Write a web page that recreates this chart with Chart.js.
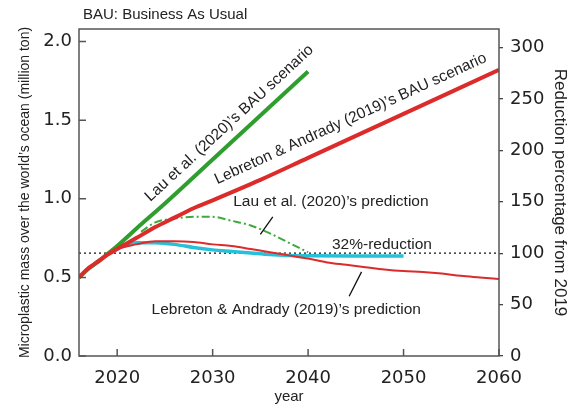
<!DOCTYPE html>
<html>
<head>
<script src="https://cdn.jsdelivr.net/npm/chart.js"></script>
<style>
    body { margin: 0; background: #fff; }
</style>
</head>
<body>
<canvas id="chart" width="576" height="410"></canvas>
<script>
// data (mass in million ton)
const yearsLebretonBAU = [2016, 2017, 2018, 2019, 2020, 2022, 2024, 2026, 2028, 2030, 2035, 2040, 2045, 2050, 2055, 2060];
const massLebretonBAU  = [0.50, 0.56, 0.60, 0.645, 0.68, 0.75, 0.82, 0.88, 0.94, 0.99, 1.12, 1.26, 1.40, 1.54, 1.68, 1.82];

const yearsLauBAU = [2016, 2017, 2018, 2019, 2020, 2022, 2025, 2030, 2035, 2040];
const massLauBAU  = [0.50, 0.555, 0.60, 0.65, 0.70, 0.81, 0.97, 1.25, 1.53, 1.81];

const yearsLebretonPred = [2016, 2018, 2020, 2022, 2024, 2026, 2028, 2030, 2032, 2034, 2036, 2038, 2040, 2042, 2044, 2046, 2048, 2050, 2052, 2054, 2056, 2058, 2060];
const massLebretonPred  = [0.50, 0.61, 0.68, 0.71, 0.73, 0.73, 0.725, 0.71, 0.70, 0.68, 0.66, 0.64, 0.62, 0.595, 0.58, 0.565, 0.55, 0.54, 0.535, 0.525, 0.51, 0.50, 0.49];

const yearsCyan = [2019, 2020, 2021, 2022, 2023, 2024, 2026, 2028, 2030, 2032, 2034, 2036, 2038, 2040, 2045, 2050];
const massCyan  = [0.65, 0.69, 0.71, 0.72, 0.72, 0.72, 0.71, 0.69, 0.675, 0.665, 0.655, 0.645, 0.64, 0.638, 0.636, 0.636];

const yearsLauPred = [2022.5, 2024, 2026, 2028, 2030, 2032, 2034, 2036, 2038, 2040];
const massLauPred  = [0.79, 0.85, 0.875, 0.885, 0.885, 0.86, 0.83, 0.78, 0.72, 0.66];

const reductionYears = [2016, 2060];
const reductionLevel = 0.654;   // = 100 % on the right axis

const xTicks = [2020, 2030, 2040, 2050, 2060];
const yTicks = [0, 0.5, 1.0, 1.5, 2.0];
const y1Ticks = [0, 50, 100, 150, 200, 250, 300];

const pts = (xs, ys) => xs.map((x, i) => ({ x: x, y: ys[i] }));

const RED = '#dc2b2b';
const GREEN = '#2f9e2f';
const CYAN = '#26c1d9';
const TEXT = '#222';
const ANN = '15.5px "Liberation Sans", Arial, sans-serif';

const decor = {
    id: 'decor',
    afterDatasetsDraw(chart) {
        const { ctx, chartArea: a, scales: { x, y } } = chart;
        const px = v => x.getPixelForValue(v);
        const py = v => y.getPixelForValue(v);
        ctx.save();

        // frame + inward ticks
        ctx.strokeStyle = '#555';
        ctx.lineWidth = 1.5;
        ctx.strokeRect(a.left, a.top, a.right - a.left, a.bottom - a.top);
        ctx.beginPath();
        x.ticks.forEach(t => { ctx.moveTo(px(t.value), a.bottom); ctx.lineTo(px(t.value), a.bottom - 7); });
        y.ticks.forEach(t => { ctx.moveTo(a.left, py(t.value)); ctx.lineTo(a.left + 7, py(t.value)); });
        ctx.stroke();

        ctx.fillStyle = TEXT;
        ctx.font = '15px "Liberation Sans", Arial, sans-serif';
        ctx.textAlign = 'left';
        ctx.textBaseline = 'middle';
        ctx.fillText('BAU: Business As Usual', a.left + 4, 15);

        // rotated labels along the BAU lines
        ctx.font = ANN;
        ctx.textAlign = 'center';
        ctx.textBaseline = 'alphabetic';
        const along = (text, xv, yv, x0, y0, x1, y1) => {
            const ang = Math.atan2(py(y1) - py(y0), px(x1) - px(x0));
            ctx.save();
            ctx.translate(px(xv), py(yv));
            ctx.rotate(ang);
            ctx.fillText(text, 0, 0);
            ctx.restore();
        };
        along('Lau et al. (2020)\u2019s BAU scenario', 2032.05, 1.46, 2025, 0.97, 2040, 1.81);
        along('Lebreton & Andrady (2019)\u2019s BAU scenario', 2044.65, 1.484, 2030, 0.99, 2060, 1.82);

        ctx.textAlign = 'left';
        ctx.textBaseline = 'middle';
        ctx.fillText('Lau et al. (2020)\u2019s prediction', px(2032.16), py(0.981));
        ctx.fillText('32%-reduction', px(2042.5), py(0.706));
        ctx.fillText('Lebreton & Andrady (2019)\u2019s prediction', px(2023.6), py(0.292));

        // leader lines
        ctx.strokeStyle = '#111';
        ctx.lineWidth = 1.3;
        ctx.beginPath();
        ctx.moveTo(px(2036.3), py(0.885)); ctx.lineTo(px(2035.0), py(0.774));
        ctx.moveTo(px(2045.6), py(0.535)); ctx.lineTo(px(2044.3), py(0.38));
        ctx.stroke();
        ctx.restore();
    }
};

const useTicks = list => scale => { scale.ticks = list.map(v => ({ value: v })); };

new Chart(document.getElementById('chart'), {
    type: 'line',
    data: {
        datasets: [
            { data: pts(yearsLebretonBAU, massLebretonBAU), borderColor: RED, borderWidth: 4 },
            { data: pts(yearsLauBAU, massLauBAU), borderColor: GREEN, borderWidth: 4 },
            { data: pts(yearsLebretonPred, massLebretonPred), borderColor: RED, borderWidth: 2 },
            { data: pts(yearsCyan, massCyan), borderColor: CYAN, borderWidth: 3.5 },
            { data: pts(yearsLauPred, massLauPred), borderColor: '#3cab3c', borderWidth: 2, borderDash: [8, 3, 2, 3] },
            { data: pts(reductionYears, [reductionLevel, reductionLevel]), borderColor: '#111', borderWidth: 1.2, borderDash: [2, 3], tension: 0 }
        ]
    },
    options: {
        responsive: false,
        animation: false,
        layout: { padding: { top: 29, left: 0, right: 0, bottom: 0 } },
        elements: {
            point: { radius: 0 },
            line: { tension: 0.3, cubicInterpolationMode: 'monotone', fill: false }
        },
        plugins: { legend: { display: false }, tooltip: { enabled: false } },
        scales: {
            x: {
                type: 'linear',
                min: 2016,
                max: 2060,
                afterBuildTicks: useTicks(xTicks),
                afterFit: s => { s.height = 54; },
                grid: { display: false, drawTicks: false },
                border: { display: false },
                ticks: { autoSkip: false, padding: 12, color: TEXT, font: { family: 'DejaVu Sans', size: 18 }, callback: v => String(v) },
                title: { display: true, text: 'year', color: TEXT, font: { family: 'Liberation Sans', size: 15 }, padding: { bottom: 4 } }
            },
            y: {
                position: 'left',
                min: 0,
                max: 2.08,
                afterBuildTicks: useTicks(yTicks),
                afterFit: s => { s.width = 79; },
                grid: { display: false, drawTicks: false },
                border: { display: false },
                ticks: { autoSkip: false, padding: 7, color: TEXT, font: { family: 'DejaVu Sans', size: 18 }, callback: v => v.toFixed(1) },
                title: { display: true, text: 'Microplastic mass over the world\u2019s ocean (million ton)', color: TEXT, font: { family: 'Liberation Sans', size: 14 }, padding: { top: 17 } }
            },
            y1: {
                position: 'right',
                min: 0,
                max: 318,
                afterBuildTicks: useTicks(y1Ticks),
                afterFit: s => { s.width = 77; },
                grid: { display: true, drawOnChartArea: false, drawTicks: true, tickLength: 4, color: '#444', lineWidth: 1.3 },
                border: { display: false },
                ticks: { autoSkip: false, padding: 7, color: TEXT, font: { family: 'DejaVu Sans', size: 18 } },
                title: { display: true, text: 'Reduction percentage from 2019', color: TEXT, font: { family: 'Liberation Sans', size: 17 }, padding: { top: 6 } }
            }
        }
    },
    plugins: [decor]
});
</script>
</body>
</html>
